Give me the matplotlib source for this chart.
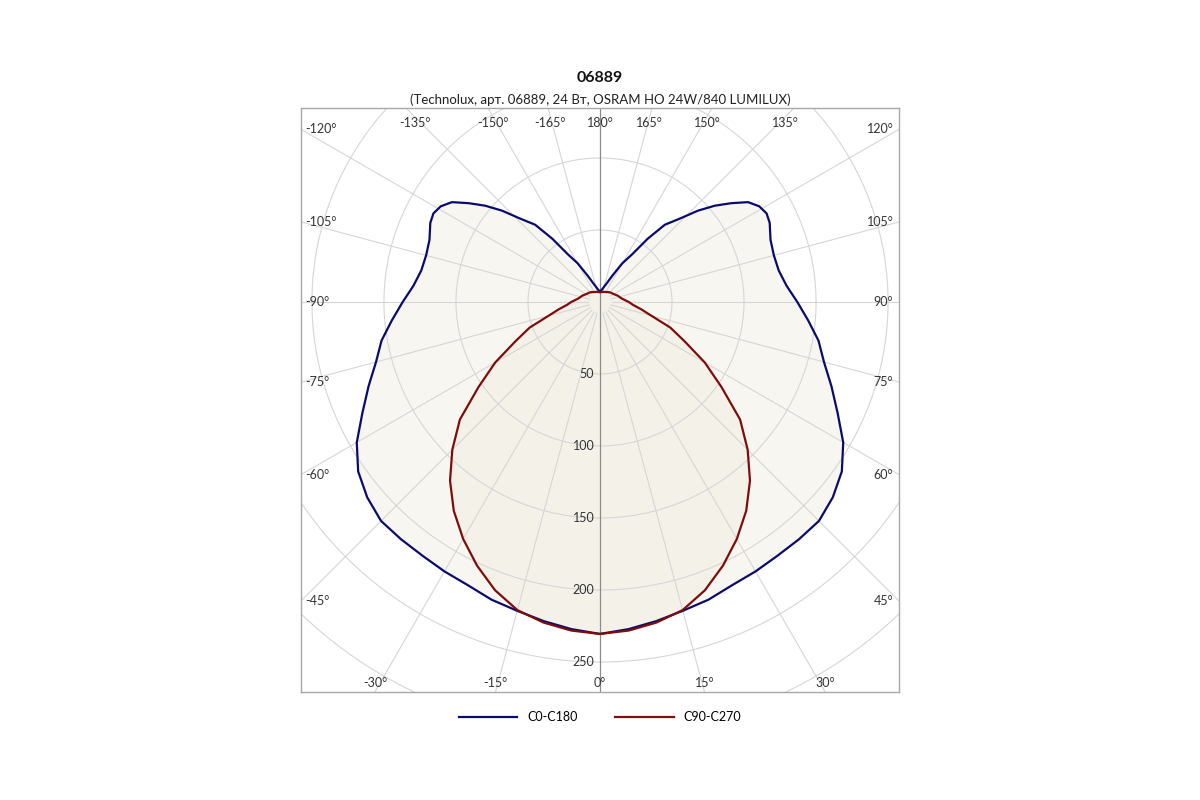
import numpy as np
import matplotlib
matplotlib.use('Agg')
import matplotlib.pyplot as plt

plt.rcParams['font.family'] = ['Lato', 'DejaVu Sans']

# Кривые силы света (кд/клм), половина кривой, 0° - вниз
c0_angles = [0, 5, 10, 15, 20, 25, 30, 35, 40, 45, 50, 55, 60, 65, 70, 75, 80, 85, 90,
             95, 100, 105, 110, 115, 118, 121, 124, 127, 130, 133, 136, 140, 143, 146,
             150, 155, 160, 165, 170, 175, 180]
c0_values = [230.5, 228, 225, 222, 220, 217, 216, 215, 215, 215, 211, 205, 195, 182, 171,
             161, 154, 145, 137, 130, 126, 125, 126, 130, 131, 129, 124, 114, 104, 93, 81,
             70, 55, 40, 31, 20, 14, 11, 9, 8, 7]

c90_angles = [0, 5, 10, 15, 20, 25, 30, 35, 40, 45, 50, 55, 60, 65, 70, 75, 80, 85, 90,
              95, 100, 110, 120, 130, 140, 150, 160, 170, 180]
c90_values = [230.5, 229, 226, 221.5, 213, 202, 190, 177, 162, 145, 127, 103, 84, 65, 52,
              37, 29, 23, 20, 17, 15, 13, 11, 10, 9, 8, 7.5, 7, 7]

rings = [50, 100, 150, 200, 250, 300, 350]
ring_labels = ['50', '100', '150', '200', '250']
spokes = list(range(-165, 181, 15))

title = '06889'
subtitle = '(Technolux, арт. 06889, 24 Вт, OSRAM HO 24W/840 LUMILUX)'
names = ['C0-C180', 'C90-C270']
colors = ['#0b0b6b', '#7e0d0d']

XLIM = (-207.6, 207.6)
YLIM = (-270.8, 134.7)


def polar_xy(angles, values):
    a = np.radians(angles)
    v = np.asarray(values, dtype=float)
    return v * np.sin(a), -v * np.cos(a)


def mirror(angles, values):
    ang = [-a for a in angles[::-1]] + list(angles[1:])
    val = list(values[::-1]) + list(values[1:])
    return ang, val


def edge_point(deg):
    # точка пересечения луча с рамкой
    a = np.radians(deg)
    dx, dy = np.sin(a), -np.cos(a)
    ts = []
    if dx > 1e-9:
        ts.append(XLIM[1] / dx)
    if dx < -1e-9:
        ts.append(XLIM[0] / dx)
    if dy > 1e-9:
        ts.append(YLIM[1] / dy)
    if dy < -1e-9:
        ts.append(YLIM[0] / dy)
    t = min(ts)
    return dx * t, dy * t


fig = plt.figure(figsize=(12, 8), dpi=100)
ax = fig.add_axes([301 / 1200, 108 / 800, 598 / 1200, 584 / 800])
ax.set_xlim(*XLIM)
ax.set_ylim(*YLIM)
ax.set_xticks([])
ax.set_yticks([])
for s in ax.spines.values():
    s.set_color('#a8a8a8')
    s.set_linewidth(1)

# сетка
th = np.linspace(0, 2 * np.pi, 400)
for r in rings:
    ax.plot(r * np.cos(th), r * np.sin(th), color='#d6d6d6', lw=0.8, zorder=1)
for d in spokes:
    if d in (0, 180):
        continue
    a = np.radians(d)
    ax.plot([8 * np.sin(a), 600 * np.sin(a)], [-8 * np.cos(a), -600 * np.cos(a)],
            color='#d6d6d6', lw=0.8, zorder=1)
ax.plot([0, 0], [YLIM[0], YLIM[1]], color='#8c8c8c', lw=0.9, zorder=1)

# кривые
handles = []
for angs, vals, col, name in [(c0_angles, c0_values, colors[0], names[0]),
                              (c90_angles, c90_values, colors[1], names[1])]:
    fa, fv = mirror(angs, vals)
    x, y = polar_xy(fa, fv)
    ax.fill(x, y, color='#eee9dc', alpha=0.38, lw=0, zorder=0.5)
    h, = ax.plot(x, y, color=col, lw=1.6, zorder=3, label=name)
    handles.append(h)

# подписи колец
for r, lab in zip(rings, ring_labels):
    ax.text(-4, -r, lab, ha='right', va='center', fontsize=9, color='#333333', zorder=4)

# подписи углов
for d in spokes:
    ex, ey = edge_point(d)
    lab = f'{d}°'
    if abs(ex - XLIM[1]) < 1e-6:
        ax.text(ex - 4, ey, lab, ha='right', va='center', fontsize=9, color='#333333')
    elif abs(ex - XLIM[0]) < 1e-6:
        ax.text(ex + 3, ey, lab, ha='left', va='center', fontsize=9, color='#333333')
    elif abs(ey - YLIM[1]) < 1e-6:
        ax.text(ex * 0.955, ey - 6, lab, ha='center', va='top', fontsize=9,
                color='#333333')
    else:
        ax.text(ex, ey + 6, lab, ha='center', va='center', fontsize=9, color='#333333')

fig.text(0.5, 1 - 78 / 800, title, ha='center', va='center', fontsize=11.5,
         fontweight='bold', color='#111111')
fig.text(0.5, 1 - 100 / 800, subtitle, ha='center', va='center', fontsize=9.5,
         color='#222222')

fig.legend(handles=handles, loc='center', bbox_to_anchor=(0.5, 1 - 717 / 800), ncol=2,
           frameon=False, fontsize=9, handlelength=4.7, handletextpad=0.8,
           columnspacing=3.0)

fig.savefig('out.png', dpi=100, facecolor='white')
